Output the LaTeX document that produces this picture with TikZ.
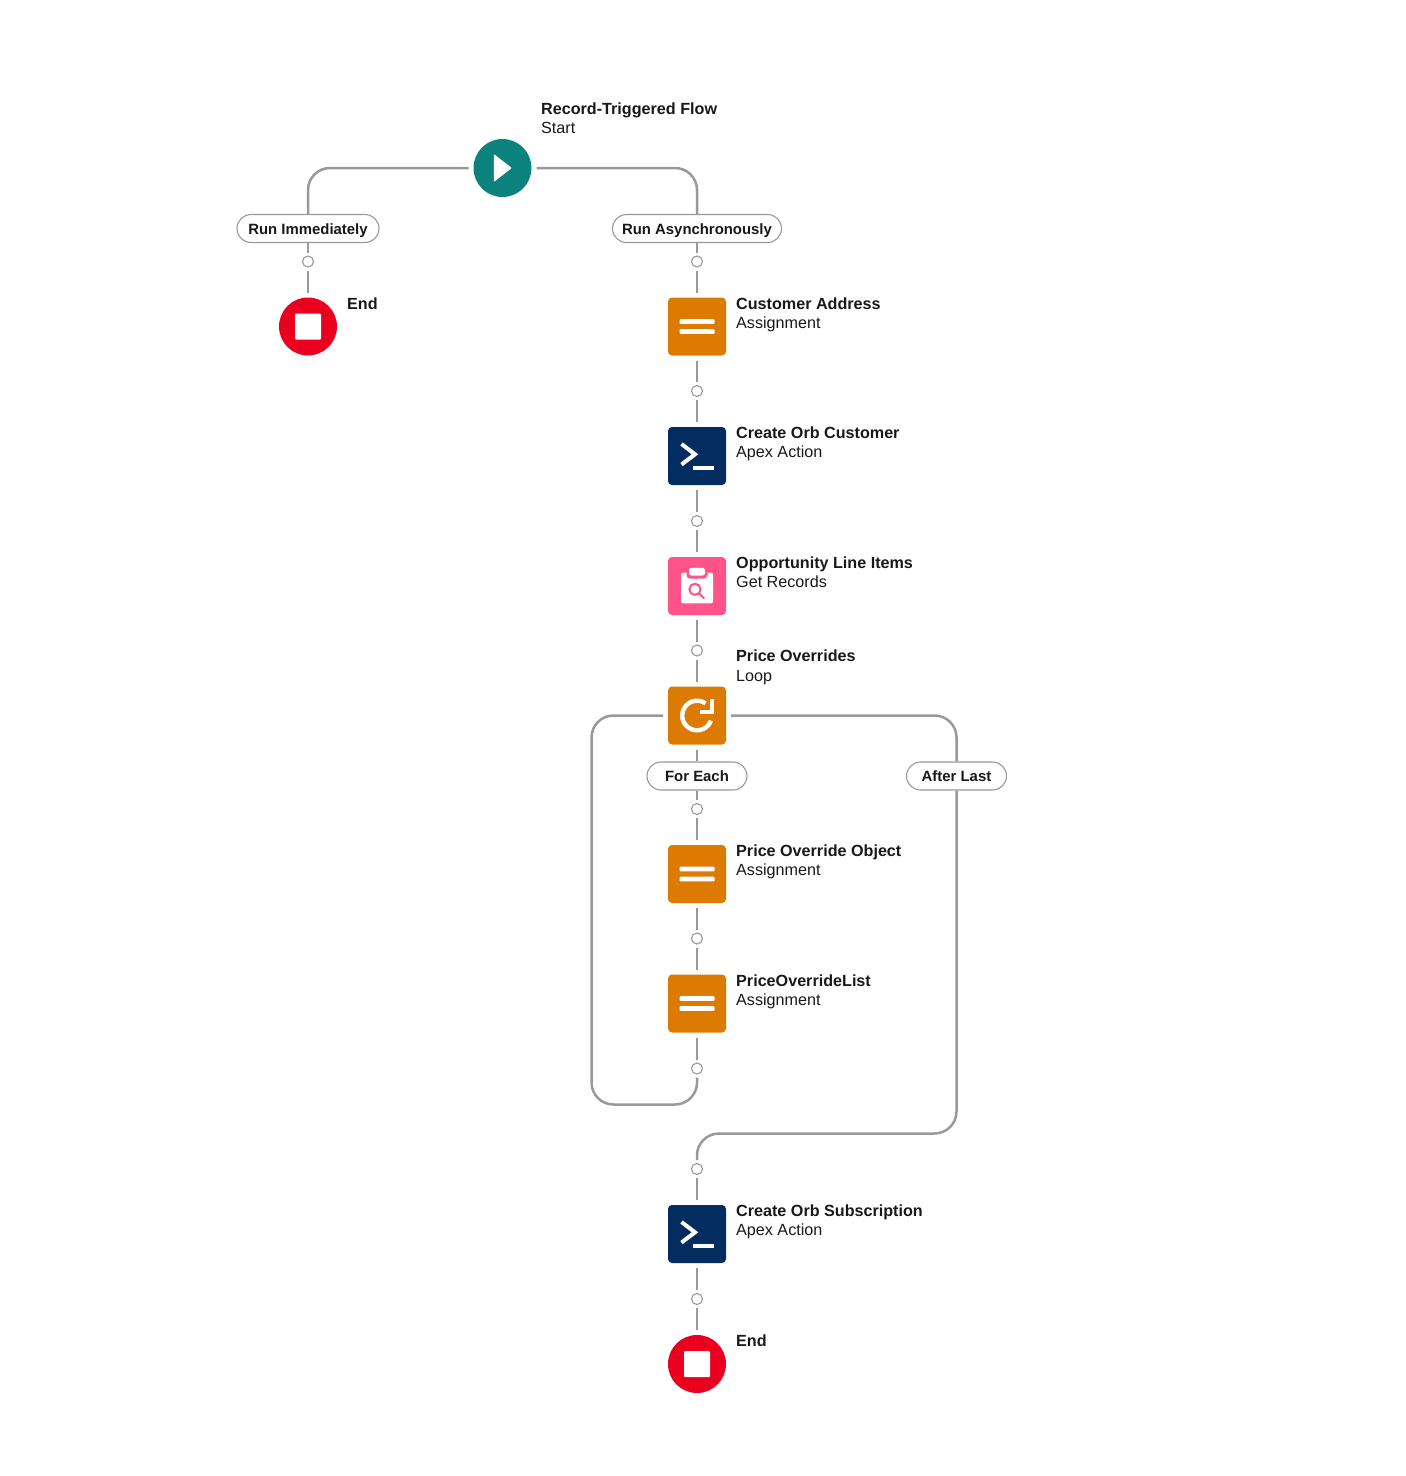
\documentclass[tikz,border=0pt]{standalone}
\usepackage{fontspec}
\setmainfont{Liberation Sans}
\definecolor{teal}{HTML}{0B827C}
\definecolor{stopred}{HTML}{EA001E}
\definecolor{orng}{HTML}{DD7A01}
\definecolor{navy}{HTML}{032D60}
\definecolor{pinkk}{HTML}{FF538A}
\definecolor{wire}{HTML}{999999}
\definecolor{ink}{HTML}{181818}
\tikzset{
  x=1pt,y=-1pt,
  wirel/.style={draw=wire,line width=2.5pt,rounded corners=22pt},
  sq/.style={minimum size=58pt,inner sep=0pt,outer sep=5pt,rounded corners=4pt},
  circ/.style={circle,minimum size=58pt,inner sep=0pt,outer sep=5pt},
  dotn/.style={circle,draw=wire,fill=white,line width=1.1pt,minimum size=11pt,inner sep=0pt,outer sep=3.5pt},
  pill/.style={rounded corners=14pt,draw=wire,fill=white,line width=1.1pt,minimum height=28pt,inner sep=0pt,text height=12.5pt,text depth=1.5pt,text=ink,font=\fontsize{14.9}{16}\selectfont\bfseries},
  ttl/.style={anchor=base west,inner sep=0pt,text=ink,font=\fontsize{16.15}{18}\selectfont\bfseries},
  sub/.style={anchor=base west,inner sep=0pt,text=ink,font=\fontsize{16.15}{18}\selectfont},
  glyph/.style={white,line width=4pt},
}
\newcommand{\eqicon}[1]{\fill[white,rounded corners=.8pt] ([shift={(-17.5,-7.3)}]#1) rectangle ([shift={(17.5,-2.6)}]#1) ([shift={(-17.5,2.7)}]#1) rectangle ([shift={(17.5,7.4)}]#1);}
\newcommand{\termicon}[1]{\draw[glyph,line join=miter] ([shift={(-15.5,-12)}]#1) -- ([shift={(-2,-1.7)}]#1) -- ([shift={(-15.5,8.5)}]#1);
  \fill[white] ([shift={(-4.3,10)}]#1) rectangle ([shift={(17.3,14.3)}]#1);}
\newcommand{\stopicon}[1]{\fill[white,rounded corners=1pt] ([shift={(-13,-13)}]#1) rectangle ([shift={(13,13)}]#1);}
\begin{document}
\begin{tikzpicture}
\useasboundingbox (0,0) rectangle (1406,1476);
% nodes
\node[circ,fill=teal] (start) at (502.5,168) {};
\node[circ,fill=stopred] (endl) at (308,326.5) {};
\node[sq,fill=orng] (cust) at (697,326.5) {};
\node[sq,fill=navy] (orbc) at (697,456) {};
\node[sq,fill=pinkk] (opp) at (697,586) {};
\node[sq,fill=orng] (loop) at (697,715.5) {};
\node[sq,fill=orng] (pobj) at (697,874) {};
\node[sq,fill=orng] (plist) at (697,1003.5) {};
\node[sq,fill=navy] (orbs) at (697,1234) {};
\node[circ,fill=stopred] (endr) at (697,1364) {};
% wires
\coordinate (loopbl) at (591.5,1104.5);
\coordinate (looptl) at (591.5,715.5);
\coordinate (loopbr) at (697,1104.5);
\coordinate (alb) at (956.5,1133.5);
\coordinate (alm) at (697,1133.5);
\coordinate (altr) at (956.5,715.5);
\coordinate (sl) at (308,168);
\coordinate (sr) at (697,168);
\node[pill,minimum width=142pt] (pri) at (308,228.5) {Run Immediately};
\node[pill,minimum width=169pt] (pra) at (697,228.5) {Run Asynchronously};
\node[pill,minimum width=100pt] (pfe) at (697,776) {For Each};
\node[pill,minimum width=100pt] (pal) at (956.5,776) {After Last};
\foreach \n/\x/\y in {d1/308/261.5,d2/697/261.5,d3/697/391,d4/697/521,d5/697/650.5,d6/697/809,d7/697/938.5,d8/697/1068.5,d9/697/1169,d10/697/1299}
  \node[dotn] (\n) at (\x,\y) {};
\draw[wirel] (start.west) -- (sl) -- (pri.north);
\draw[wirel] (start.east) -- (sr) -- (pra.north);
\draw[wirel] (pri.south) -- (d1.north);
\draw[wirel] (d1.south) -- (endl.north);
\draw[wirel] (pra.south) -- (d2.north);
\draw[wirel] (d2.south) -- (cust.north);
\draw[wirel] (cust.south) -- (d3.north);
\draw[wirel] (d3.south) -- (orbc.north);
\draw[wirel] (orbc.south) -- (d4.north);
\draw[wirel] (d4.south) -- (opp.north);
\draw[wirel] (opp.south) -- (d5.north);
\draw[wirel] (d5.south) -- (loop.north);
\draw[wirel] (loop.south) -- (pfe.north);
\draw[wirel] (pfe.south) -- (d6.north);
\draw[wirel] (d6.south) -- (pobj.north);
\draw[wirel] (pobj.south) -- (d7.north);
\draw[wirel] (d7.south) -- (plist.north);
\draw[wirel] (plist.south) -- (d8.north);
\draw[wirel] (d8.south) -- (loopbr) -- (loopbl) -- (looptl) -- (loop.west);
\draw[wirel] (loop.east) -- (altr) -- (pal.north);
\draw[wirel] (pal.south) -- (alb) -- (alm) -- (d9.north);
\draw[wirel] (d9.south) -- (orbs.north);
\draw[wirel] (orbs.south) -- (d10.north);
\draw[wirel] (d10.south) -- (endr.north);
% icons
\fill[white,rounded corners=1pt] ([shift={(-8.7,-14)}]start.center) -- ([shift={(9.3,0)}]start.center) -- ([shift={(-8.7,14)}]start.center) -- cycle;
\stopicon{endl.center}
\stopicon{endr.center}
\eqicon{cust.center}
\eqicon{pobj.center}
\eqicon{plist.center}
\termicon{orbc.center}
\termicon{orbs.center}
% clipboard
\fill[white,rounded corners=2pt] ([shift={(-16,-13.3)}]opp.center) rectangle ([shift={(16,17.3)}]opp.center);
\fill[pinkk,rounded corners=3.5pt] ([shift={(-10.5,-19)}]opp.center) rectangle ([shift={(10.5,-7.5)}]opp.center);
\fill[white,rounded corners=2.5pt] ([shift={(-8,-18.2)}]opp.center) rectangle ([shift={(8,-10.5)}]opp.center);
\draw[pinkk,line width=2pt] ([shift={(-2,3.3)}]opp.center) circle[radius=5.6pt];
\draw[pinkk,line width=2pt,line cap=round] ([shift={(2,7.4)}]opp.center) -- ([shift={(7,12.3)}]opp.center);
% loop glyph
\draw[white,line width=4.4pt] ([shift={(8.5,-12.1)}]loop.center) arc[start angle=55,end angle=340,x radius=14.8pt,y radius=14.8pt];
\draw[white,line width=4pt,line join=miter] ([shift={(15,-17)}]loop.center) -- ([shift={(15,-3.5)}]loop.center) -- ([shift={(2.5,-3.5)}]loop.center);
% labels
\node[ttl] (t0) at (541,114.5) {Record-Triggered Flow};
\node[sub] (s0) at (541,133) {Start};
\node[ttl] (t1) at (347,309) {End};
\node[ttl] (t2) at (736,309) {Customer Address};
\node[sub] (s2) at (736,328) {Assignment};
\node[ttl] (t3) at (736,438) {Create Orb Customer};
\node[sub] (s3) at (736,457) {Apex Action};
\node[ttl] (t4) at (736,568) {Opportunity Line Items};
\node[sub] (s4) at (736,587) {Get Records};
\node[ttl] (t5) at (736,661) {Price Overrides};
\node[sub] (s5) at (736,681) {Loop};
\node[ttl] (t6) at (736,856) {Price Override Object};
\node[sub] (s6) at (736,875) {Assignment};
\node[ttl] (t7) at (736,986) {PriceOverrideList};
\node[sub] (s7) at (736,1005) {Assignment};
\node[ttl] (t8) at (736,1216) {Create Orb Subscription};
\node[sub] (s8) at (736,1235) {Apex Action};
\node[ttl] (t9) at (736,1346) {End};
\end{tikzpicture}
\end{document}
